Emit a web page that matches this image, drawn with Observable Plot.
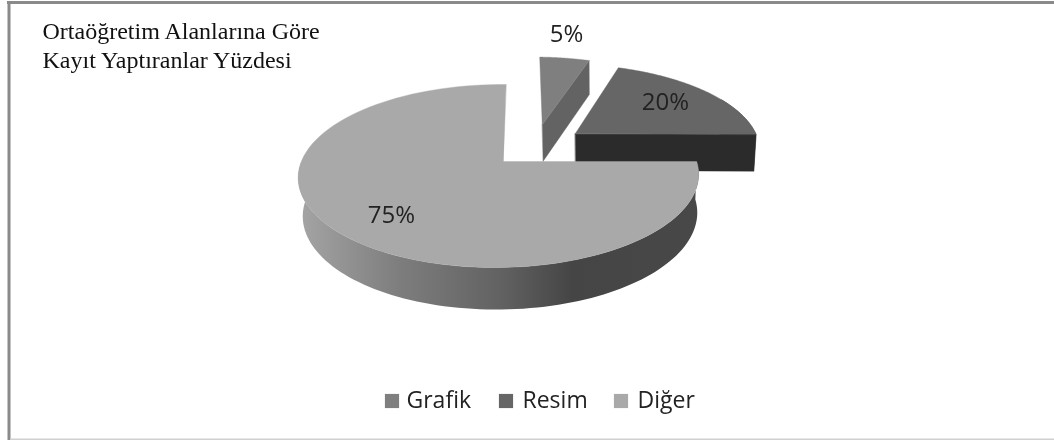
<!DOCTYPE html>
<html><head><meta charset="utf-8">
<script src="https://cdn.jsdelivr.net/npm/d3@7"></script>
<script src="https://cdn.jsdelivr.net/npm/@observablehq/plot@0.6"></script>
<style>html,body{margin:0;padding:0;background:#fff}svg{display:block;filter:blur(0.45px)}</style>
</head><body><div id="chart"></div>
<script>
const categories = ["Grafik", "Resim", "Diğer"];
const shares = [5, 20, 75];
const percentLabels = ["5%", "20%", "75%"];
const titleLines = ["Ortaöğretim Alanlarına Göre", "Kayıt Yaptıranlar Yüzdesi"];
const topColors = ["#7f7f7f", "#666666", "#a9a9a9"];
const cutWallColors = ["#636363", "#2b2b2b", null];
const explodeX = [0.204, 0.38, 0];
const explodeY = [-0.444, -0.33, 0];

// oblique projection of the unit-radius pie
const P = {a: 197.6, b: 89.2, k: 0.1585, m: -0.0226, s: -3};
const project = (X, Y) => {
  const w = 1 - P.k * Y - P.m * X;
  return [(P.a * X + P.s * Y) / w, P.b * Y / w];
};
const toBase = ([x, y]) => [0.985 * x + 1.5, 1.0388 * y + 37.9];

let cum = 0;
const slices = categories.map((name, i) => {
  const t0 = cum / 100 * 2 * Math.PI;
  cum += shares[i];
  return {name, i, t0, t1: cum / 100 * 2 * Math.PI, dx: explodeX[i], dy: explodeY[i]};
});
const rim = (s, a0, a1) => d3.range(0, 101).map(j => {
  const t = a0 + (a1 - a0) * j / 100;
  return project(s.dx + Math.sin(t), s.dy - Math.cos(t));
});
const hub = s => project(s.dx, s.dy);
const pts = (ring) => ring.map(([x, y]) => ({x, y}));
const poly = (ring, fill) => Plot.line(pts(ring), {x: "x", y: "y", fill, stroke: fill === "url(#wall)" ? null : fill, strokeWidth: 0.4, curve: "linear-closed"});

const marks = [];
marks.push(() => {
  const ns = "http://www.w3.org/2000/svg";
  const defs = document.createElementNS(ns, "defs");
  const g = document.createElementNS(ns, "linearGradient");
  g.setAttribute("id", "wall");
  g.setAttribute("gradientUnits", "userSpaceOnUse");
  g.setAttribute("x1", 300); g.setAttribute("x2", 700);
  g.setAttribute("y1", 0); g.setAttribute("y2", 0);
  [[0, "#a4a4a4"], [0.25, "#7d7d7d"], [0.5, "#626262"], [0.68, "#454545"], [1, "#484848"]].forEach(([o, c]) => {
    const st = document.createElementNS(ns, "stop");
    st.setAttribute("offset", o); st.setAttribute("stop-color", c);
    g.appendChild(st);
  });
  defs.appendChild(g);
  return defs;
});
// picture border: dark left and top, pale bottom, none on the right
marks.push(Plot.ruleX([-494.5], {y1: -159, y2: 279, stroke: "#8a8a8a", strokeWidth: 3}));
marks.push(Plot.ruleY([-159], {x1: -496, x2: 551, stroke: "#8a8a8a", strokeWidth: 3}));
marks.push(Plot.ruleY([278], {x1: -493, x2: 551, stroke: "#d0d0d0", strokeWidth: 2}));

slices.forEach((s, i) => {
  const r = rim(s, s.t0, s.t1);
  const h = hub(s);
  if (i < 2) {
    const e = r[100];
    const cut = [h, e, toBase(e), toBase(h)];
    if (i === 1) marks.push(poly([...r.slice(-40), ...r.slice(-40).reverse().map(toBase)], "#4a4a4a"));
    marks.push(poly(cut, cutWallColors[i]));
  } else {
    const front = rim(s, Math.PI / 2, 3 * Math.PI / 2);
    marks.push(poly([...front, ...front.slice().reverse().map(toBase)], "url(#wall)"));
  }
  marks.push(poly([h, ...r], topColors[i]));
});

// percent labels
const labelX = [63, 162, -112];
const labelY = [-127, -59, 54];
marks.push(Plot.text(percentLabels, {x: (d, i) => labelX[i], y: (d, i) => labelY[i], text: d => d, fontSize: 24, fill: "#222", fontFamily: "Open Sans"}));

// title inside the chart
marks.push(Plot.text(titleLines, {x: -461, y: (d, i) => -130 + i * 29, text: d => d, textAnchor: "start", fontFamily: "Liberation Serif", fontSize: 24, fill: "#111"}));

// legend inside the chart
const legendSwatchX = [-111.5, 2.5, 117.5];
const legendTextX = [-97, 19, 134];
marks.push(Plot.dot(categories, {x: (d, i) => legendSwatchX[i], y: 239.5, symbol: "square", r: 8, fill: (d, i) => topColors[i]}));
marks.push(Plot.text(categories, {x: (d, i) => legendTextX[i], y: 239.5, text: d => d, textAnchor: "start", fontSize: 23, fill: "#222", fontFamily: "Open Sans"}));

document.getElementById("chart").append(Plot.plot({
  width: 1054, height: 440, margin: 0,
  x: {domain: [-503, 551], range: [0, 1054], axis: null},
  y: {domain: [-161, 279], range: [0, 440], axis: null},
  style: {background: "#fff"},
  marks
}));
</script></body></html>
